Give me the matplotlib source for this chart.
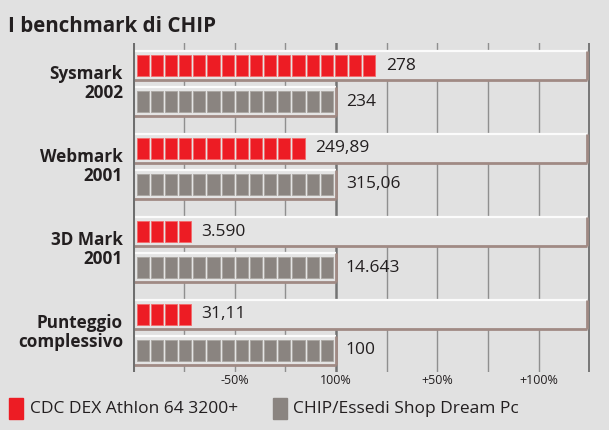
import matplotlib
matplotlib.use("Agg")
import matplotlib.pyplot as plt
from matplotlib.patches import Rectangle

# ---------------- data ----------------
categories = ["Sysmark\n2002", "Webmark\n2001", "3D Mark\n2001", "Punteggio\ncomplessivo"]
red_values = [278, 249.89, 3590, 31.11]
grey_values = [234, 315.06, 14643, 100]
red_labels = ["278", "249,89", "3.590", "31,11"]
grey_labels = ["234", "315,06", "14.643", "100"]
# bar lengths as drawn (number of blocks, 14 blocks = 100%)
red_blocks = [17, 12, 4, 4]
grey_blocks = [14, 14, 14, 14]
tick_pos = [50, 100, 150, 200]
tick_labels = ["-50%", "100%", "+50%", "+100%"]
series_names = ["CDC DEX Athlon 64 3200+", "CHIP/Essedi Shop Dream Pc"]

# ---------------- style ----------------
W, H = 609, 430
BG = "#e1e1e1"
TRACK = "#e4e4e4"
RED = "#ed1c24"
RED_EDGE = "#f26a6a"
GREY = "#8a8480"
GREY_EDGE = "#aaa5a1"
BROWN = "#a08a84"
TXT = "#231f20"
FONT = ["Open Sans", "DejaVu Sans"]

fig = plt.figure(figsize=(W / 100, H / 100), dpi=100, facecolor=BG)

# axes geometry in pixels
L_px, R_px, T_px, B_px = 133, 599, 43, 372
px_per_pct = 2.03
ax = fig.add_axes([L_px / W, (H - B_px) / H, (R_px - L_px) / W, (B_px - T_px) / H])
ax.set_facecolor(BG)
ax.set_xlim(0, (R_px - L_px) / px_per_pct)
g0, gstep = 83.5, 83.0
ax.set_ylim((B_px - g0) / gstep, (T_px - g0) / gstep)
ax.axis("off")

u = 1.0 / gstep  # y units per pixel
off = 18 * u
track_half = 14.5 * u
block_h = 21.5 * u
right_end = 223.6
block_start = 1.8
block_pitch = 100 / 14 * 0.977
block_w = block_pitch - 2.0 / px_per_pct

# vertical grid lines
for xg in [25, 50, 75, 125, 150, 175, 200]:
    ax.axvline(xg, color="#8f8f8f", lw=1.0, zorder=1)
ax.axvline(100, color="#737373", lw=1.8, zorder=1)
ax.axvline(224.4, color="#777777", lw=1.4, zorder=1)
ax.axvline(0, color="#6e6e6e", lw=2.2, zorder=6)

ys = list(range(len(categories)))
for i in ys:
    yr = i - off
    yg = i + off
    # tracks
    for yc, xend in [(yr, right_end), (yg, 100)]:
        ax.barh(yc, xend, height=2 * track_half, left=0, color=TRACK, zorder=2)
        ax.hlines(yc - track_half, 0, xend, color="#fbfbfb", lw=1.6, zorder=3)
        ax.hlines(yc + track_half, 0, xend, color=BROWN, lw=2.0, zorder=3)
        ax.vlines(xend, yc - track_half, yc + track_half, color=BROWN, lw=2.0, zorder=3)
    # red blocks
    lefts = [block_start + k * block_pitch for k in range(red_blocks[i])]
    ax.barh([yr] * len(lefts), [block_w] * len(lefts), left=lefts, height=block_h,
            color=RED, edgecolor=RED_EDGE, lw=0.6, zorder=4)
    red_end = lefts[-1] + block_w
    ax.text(red_end + 5.0, yr, red_labels[i], ha="left", va="center",
            fontsize=12.5, color=TXT, family=FONT, zorder=5)
    # grey blocks
    lefts = [block_start + k * block_pitch for k in range(grey_blocks[i])]
    ax.barh([yg] * len(lefts), [block_w] * len(lefts), left=lefts, height=block_h,
            color=GREY, edgecolor=GREY_EDGE, lw=0.6, zorder=4)
    ax.text(100 + 4.8, yg, grey_labels[i], ha="left", va="center",
            fontsize=12.5, color=TXT, family=FONT, zorder=5)
    # category label
    ax.text(-10 / px_per_pct, i, categories[i], ha="right", va="center",
            fontsize=12.3, fontweight="bold", color=TXT, family=FONT,
            linespacing=1.05, clip_on=False)

# x tick labels
y_tick = (380 - g0) / gstep
for xp, lab in zip(tick_pos, tick_labels):
    ax.text(xp, y_tick, lab, ha="center", va="center", fontsize=9,
            color=TXT, family=FONT, clip_on=False)

# title
fig.text(8 / W, 1 - 27 / H, "I benchmark di CHIP", ha="left", va="center",
         fontsize=14.8, fontweight="bold", color=TXT, family=FONT)

# legend
def fig_rect(x0, y0, x1, y1, color):
    fig.patches.append(Rectangle((x0 / W, 1 - y1 / H), (x1 - x0) / W, (y1 - y0) / H,
                                 transform=fig.transFigure, color=color))

fig_rect(8.5, 398, 22.5, 419, RED)
fig.text(30 / W, 1 - 409 / H, series_names[0], ha="left", va="center",
         fontsize=12.5, color=TXT, family=FONT)
fig_rect(273, 398, 287, 419, GREY)
fig.text(293 / W, 1 - 409 / H, series_names[1], ha="left", va="center",
         fontsize=12.5, color=TXT, family=FONT)

fig.savefig("out.png", dpi=100, facecolor=BG)
